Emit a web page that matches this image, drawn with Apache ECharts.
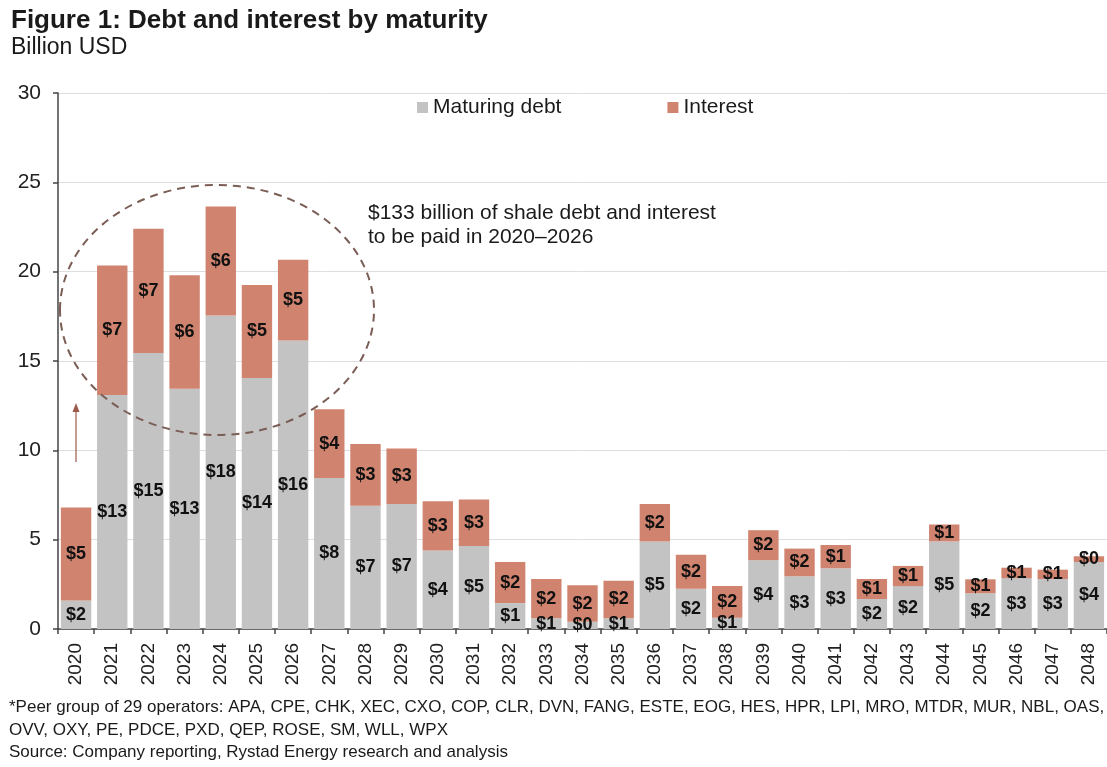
<!DOCTYPE html>
<html>
<head>
<meta charset="utf-8">
<script src="https://cdn.jsdelivr.net/npm/echarts@6/dist/echarts.min.js"></script>
<style>
  html, body { margin: 0; padding: 0; background: #ffffff; }
  #chart { width: 1107px; height: 767px; }
</style>
</head>
<body>
<div id="chart"></div>
<script>
// Maturity years
const years = ['2020','2021','2022','2023','2024','2025','2026','2027','2028','2029',
  '2030','2031','2032','2033','2034','2035','2036','2037','2038','2039',
  '2040','2041','2042','2043','2044','2045','2046','2047','2048'];

// Principal coming due each year, billion USD
const maturingDebt = [1.6, 13.1, 15.45, 13.45, 17.55, 14.05, 16.15, 8.45, 6.9, 7.0,
  4.4, 4.65, 1.45, 0.6, 0.4, 0.6, 4.9, 2.25, 0.63, 3.85,
  2.95, 3.4, 1.68, 2.4, 4.9, 2.0, 2.85, 2.8, 3.75];

// Interest payments each year, billion USD
const interest = [5.2, 7.25, 6.95, 6.35, 6.1, 5.2, 4.52, 3.85, 3.45, 3.1,
  2.75, 2.6, 2.3, 2.2, 2.05, 2.1, 2.1, 1.9, 1.78, 1.68,
  1.55, 1.3, 1.12, 1.13, 0.95, 0.78, 0.58, 0.52, 0.32];

const yTicks = { min: 0, max: 30, interval: 5 };

const FONT = "'Liberation Sans', Arial, Helvetica, sans-serif";
const GRAY = '#c3c3c3';
const SALMON = '#d0846f';

const chart = echarts.init(document.getElementById('chart'), null, { renderer: 'canvas' });

const segLabel = {
  show: true,
  position: 'inside',
  formatter: p => '$' + Math.round(p.value),
  fontFamily: FONT,
  fontWeight: 'bold',
  fontSize: 18,
  color: '#111111'
};

const txt = (text, x, y, size, weight, extra) => Object.assign({
  type: 'text',
  x: x, y: y,
  silent: true,
  style: {
    text: text,
    font: (weight || 'normal') + ' ' + size + 'px ' + FONT,
    fill: '#1a1a1a',
    verticalAlign: 'middle',
    align: 'left'
  }
}, extra || {});

chart.setOption({
  backgroundColor: '#ffffff',
  animation: false,
  textStyle: { fontFamily: FONT },
  grid: { left: 58, top: 93, width: 1050, height: 536, containLabel: false },
  legend: {
    data: ['Maturing debt', 'Interest'],
    left: 412, top: 92,
    itemWidth: 11, itemHeight: 11, itemGap: 106,
    icon: 'rect',
    textStyle: { fontFamily: FONT, fontSize: 21, color: '#1a1a1a', padding: [0, 0, 0, 0] },
    itemStyle: { borderWidth: 0 }
  },
  xAxis: {
    type: 'category',
    data: years,
    axisLine: { lineStyle: { color: '#444', width: 1.5 } },
    axisTick: { show: true, length: 5, lineStyle: { color: '#444', width: 1.5 } },
    axisLabel: { rotate: 90, margin: 14, fontSize: 19, color: '#222', fontFamily: FONT, interval: 0 }
  },
  yAxis: {
    type: 'value',
    min: yTicks.min, max: yTicks.max, interval: yTicks.interval,
    axisLine: { show: true, lineStyle: { color: '#444', width: 1.5 } },
    axisTick: { show: true, length: 5, lineStyle: { color: '#444', width: 1.5 } },
    axisLabel: { margin: 17, fontSize: 21, color: '#222', fontFamily: FONT },
    splitLine: { lineStyle: { color: '#dedede', width: 1 } }
  },
  series: [
    {
      name: 'Maturing debt', type: 'bar', stack: 'total',
      data: maturingDebt,
      barCategoryGap: '16%',
      itemStyle: { color: GRAY },
      label: segLabel
    },
    {
      name: 'Interest', type: 'bar', stack: 'total',
      data: interest,
      barCategoryGap: '16%',
      itemStyle: { color: SALMON },
      label: segLabel
    }
  ],
  graphic: [
    txt('Figure 1: Debt and interest by maturity', 11, 21, 26, 'bold'),
    txt('Billion USD', 11, 48, 23, 'normal'),
    txt('$133 billion of shale debt and interest', 368, 213, 21, 'normal'),
    txt('to be paid in 2020\u20132026', 368, 237, 21, 'normal'),
    txt('*Peer group of 29 operators: APA, CPE, CHK, XEC, CXO, COP, CLR, DVN, FANG, ESTE, EOG, HES, HPR, LPI, MRO, MTDR, MUR, NBL, OAS,', 9, 707, 17, 'normal'),
    txt('OVV, OXY, PE, PDCE, PXD, QEP, ROSE, SM, WLL, WPX', 9, 730, 17, 'normal'),
    txt('Source: Company reporting, Rystad Energy research and analysis', 9, 752, 17, 'normal'),
    // dashed ring around the 2020–2026 cluster
    {
      type: 'ellipse', silent: true, z: 100,
      shape: { cx: 217, cy: 310, rx: 157, ry: 125 },
      style: { fill: 'none', stroke: '#7a5d55', lineWidth: 2, lineDash: [8, 6] }
    },
    // small upward arrow beside the 2020 bar
    {
      type: 'line', silent: true, z: 100,
      shape: { x1: 76, y1: 462, x2: 76, y2: 410 },
      style: { stroke: '#9b5a4a', lineWidth: 1.2 }
    },
    {
      type: 'polygon', silent: true, z: 100,
      shape: { points: [[76, 403], [72.5, 412], [79.5, 412]] },
      style: { fill: '#9b5a4a' }
    }
  ]
});
</script>
</body>
</html>
